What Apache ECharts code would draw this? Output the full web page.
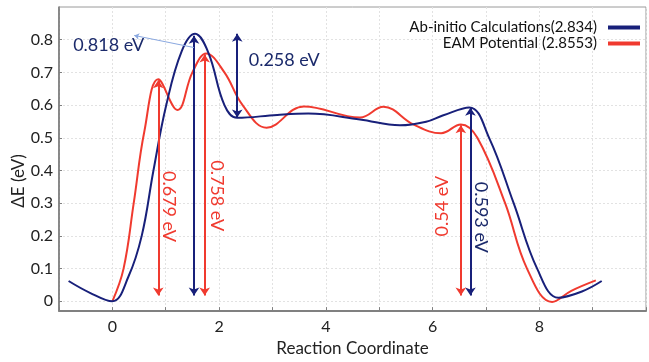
<!DOCTYPE html>
<html>
<head>
<meta charset="utf-8">
<script src="https://cdn.jsdelivr.net/npm/echarts@6/dist/echarts.min.js"></script>
<style>html,body{margin:0;padding:0;background:#fff}#c{width:649px;height:362px}</style>
</head>
<body>
<div id="c"></div>
<script>
// ---- data ----
const abX = [-0.82, -0.42, 0, 0.3, 0.55, 0.77, 1.01, 1.3, 1.55, 1.8, 2.1, 2.34, 3.09, 3.67, 4.64, 5.39, 5.88, 6.19, 6.69, 7.06, 7.52, 7.96, 8.36, 8.8, 9.17];
const abY = [0.062, 0.026, 0, 0.075, 0.2, 0.4, 0.6, 0.765, 0.818, 0.76, 0.6, 0.561, 0.57, 0.574, 0.556, 0.538, 0.549, 0.568, 0.593, 0.5, 0.3, 0.1, 0.011, 0.03, 0.062];
const eamX = [0, 0.21, 0.40, 0.6, 0.86, 1.22, 1.5, 1.76, 2.1, 2.44, 2.89, 3.59, 4.64, 5.08, 5.64, 6.16, 6.53, 6.84, 7.36, 7.77, 8.24, 8.6, 9.06];
const eamY = [0, 0.1, 0.3, 0.52, 0.679, 0.585, 0.70, 0.758, 0.7, 0.6, 0.531, 0.596, 0.562, 0.595, 0.541, 0.514, 0.541, 0.5, 0.3, 0.1, -0.002, 0.032, 0.064];
const seriesNames = ['Ab-initio Calculations(2.834)', 'EAM Potential (2.8553)'];
const yTicks = [0, 0.1, 0.2, 0.3, 0.4, 0.5, 0.6, 0.7, 0.8];
const xTicks = [0, 2, 4, 6, 8];
// barrier arrows: x, from, to
const abArrowX = [1.53, 2.34, 6.71];
const abArrowFrom = [0.018, 0.562, 0.018];
const abArrowTo = [0.812, 0.818, 0.592];
const eamArrowX = [0.86, 1.73, 6.53];
const eamArrowFrom = [0.018, 0.018, 0.018];
const eamArrowTo = [0.676, 0.755, 0.538];
// annotation texts
const abLabelText = ['0.818 eV', '0.258 eV', '0.593 eV'];
const abLabelX = [-0.07, 3.22, 6.9];
const abLabelY = [0.784, 0.737, 0.257];
const eamLabelText = ['0.679 eV', '0.758 eV', '0.54 eV'];
const eamLabelX = [1.06, 1.96, 6.19];
const eamLabelY = [0.29, 0.323, 0.291];
// pointer from 0.818 label to peak
const pointerFrom = [1.53, 0.776];
const pointerTo = [0.41, 0.813];

const BLUE = '#18207a';
const RED = '#f03a2f';
const FONT = 'Lato';

const zip = (xs, ys) => xs.map((x, i) => [x, ys[i]]);
const arrows = (xs, f, t) => xs.map((x, i) => [{coord: [x, f[i]]}, {coord: [x, t[i]]}]);

const abRot = [0, 0, -90];
const eamRot = [-90, -90, 90];
const labelItems = (txt, xs, ys, rots, color) => txt.map((s, i) => ({
  value: [xs[i], ys[i]], name: s,
  label: {show: true, position: 'inside', formatter: '{b}', rotate: rots[i], color: color,
    fontFamily: FONT, fontSize: 18, textBorderWidth: 0, opacity: 1}
}));

const chart = echarts.init(document.getElementById('c'), null, {renderer: 'canvas'});
chart.setOption({
  animation: false,
  backgroundColor: '#fff',
  textStyle: {fontFamily: FONT},
  grid: {left: 59, right: -3, top: 7, bottom: 39, show: true, borderColor: '#9a9a9a', borderWidth: 1},
  legend: {
    orient: 'vertical', right: 4, top: 15, align: 'right', itemGap: 1,
    itemWidth: 32, itemHeight: 4, icon: 'rect',
    textStyle: {fontFamily: FONT, fontSize: 15, color: '#111', padding: [0, 6, 0, 0]},
    data: seriesNames
  },
  xAxis: {
    type: 'value', min: -1, max: 10, interval: 1,
    name: 'Reaction Coordinate', nameLocation: 'middle', nameGap: 23,
    nameTextStyle: {fontFamily: FONT, fontSize: 17, color: '#222'},
    axisLine: {onZero: false, lineStyle: {color: '#808080', width: 2}},
    axisTick: {inside: true, length: 4, lineStyle: {color: '#808080'}},
    axisLabel: {fontFamily: FONT, fontSize: 16, color: '#222', margin: 8,
      formatter: v => xTicks.includes(v) ? String(v) : ''},
    splitLine: {show: true, lineStyle: {color: '#e2e2e2', type: [2, 2]}}
  },
  yAxis: {
    type: 'value', min: -0.03, max: 0.9,
    axisLine: {show: true, onZero: false, lineStyle: {color: '#707070', width: 1.5}},
    axisTick: {show: true, inside: true, length: 3, customValues: yTicks, lineStyle: {color: '#808080'}},
    axisLabel: {fontFamily: FONT, fontSize: 16, color: '#222', margin: 6, customValues: yTicks,
      formatter: v => String(Math.round(v * 10) / 10)},
    splitLine: {show: true, lineStyle: {color: '#e2e2e2', type: [2, 2]}}
  },
  graphic: [{
    type: 'text', x: 19, y: 181, rotation: Math.PI / 2,
    style: {text: 'ΔE (eV)', font: '17px Lato', fill: '#222', align: 'center', verticalAlign: 'middle'}
  }],
  series: [
    {
      name: seriesNames[0], type: 'line', data: zip(abX, abY), smooth: 0.4,
      showSymbol: false, color: BLUE, lineStyle: {width: 2, color: BLUE}, z: 3,
      markLine: {
        silent: true, symbol: ['arrow', 'arrow'], symbolSize: 8, label: {show: false},
        lineStyle: {color: BLUE, width: 2, type: 'solid'},
        data: arrows(abArrowX, abArrowFrom, abArrowTo)
      }
    },
    {
      name: seriesNames[1], type: 'line', data: zip(eamX, eamY), smooth: 0.4,
      showSymbol: false, color: RED, lineStyle: {width: 2, color: RED}, z: 2,
      markLine: {
        silent: true, symbol: ['arrow', 'arrow'], symbolSize: 8, label: {show: false},
        lineStyle: {color: RED, width: 2, type: 'solid'},
        data: arrows(eamArrowX, eamArrowFrom, eamArrowTo)
      }
    },
    {
      type: 'line', data: [], silent: true,
      markLine: {
        silent: true, symbol: ['none', 'arrow'], symbolSize: 5, label: {show: false},
        lineStyle: {color: '#8aa8e0', width: 1, type: 'solid', curveness: -0.2},
        data: [[{coord: pointerFrom}, {coord: pointerTo}]]
      }
    },
    {
      type: 'scatter', symbolSize: 0, silent: true, z: 5, itemStyle: {opacity: 1},
      data: labelItems(abLabelText, abLabelX, abLabelY, abRot, '#1b2a6b')
    },
    {
      type: 'scatter', symbolSize: 0, silent: true, z: 5, itemStyle: {opacity: 1},
      data: labelItems(eamLabelText, eamLabelX, eamLabelY, eamRot, RED)
    }
  ]
});
</script>
</body>
</html>
